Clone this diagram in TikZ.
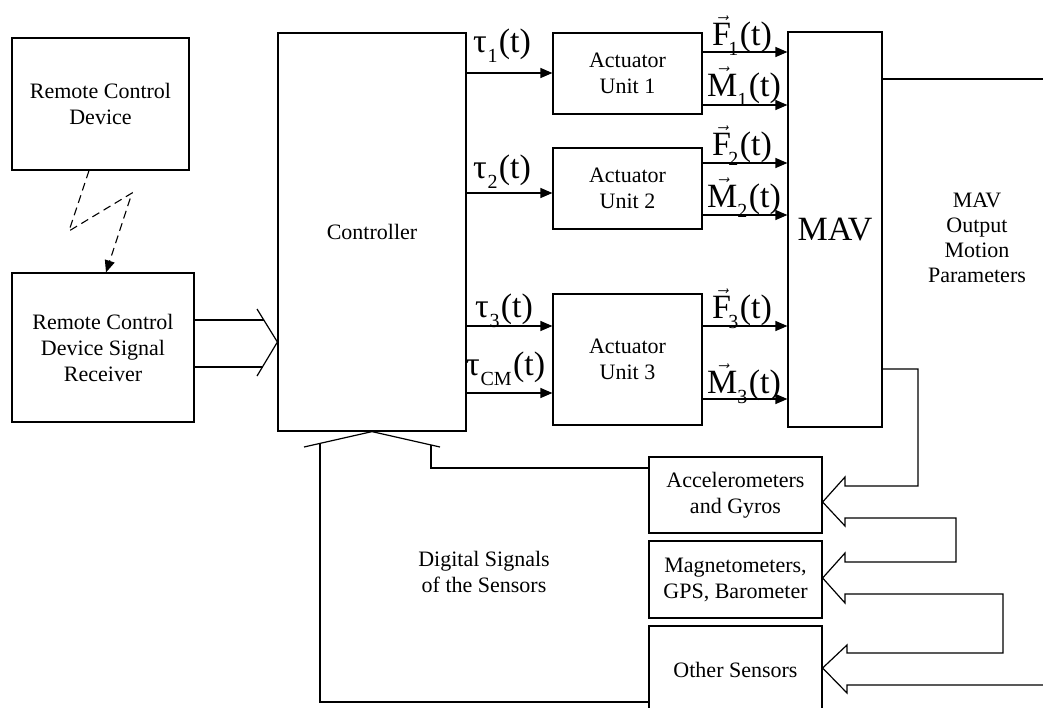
\documentclass[tikz,border=0pt]{standalone}
\usepackage{fontspec}
\setmainfont{Liberation Serif}
\usetikzlibrary{arrows.meta}
\newcommand\sgl[3]{#1\kern#3em\raisebox{-0.3em}{\fontsize{20}{20}\selectfont #2}\kern0.04em(t)}
\begin{document}
\begin{tikzpicture}[x=1pt,y=-1pt,
 every node/.style={font=\fontsize{22}{26}\selectfont},
 blk/.style={draw, line width=1.2pt, inner sep=0pt, align=center},
 conn/.style={line width=1.2pt},
 arr/.style={line width=1.2pt, -{Triangle[length=12pt,width=10pt]}},
 sig/.style={font=\fontsize{34}{34}\selectfont, inner sep=0pt, anchor=base west},
]
\useasboundingbox (0,0) rectangle (1043,707);
% boxes
\node[blk, minimum width=177pt, minimum height=132pt] (rcd) at (100.5,104) {Remote Control\\Device};
\node[blk, minimum width=182pt, minimum height=149pt] (recv) at (103,347.5) {Remote Control\\Device Signal\\Receiver};
\node[blk, minimum width=188pt, minimum height=398pt] (ctrl) at (372,232) {Controller};
\node[blk, minimum width=149pt, minimum height=81pt] (act1) at (627.5,73.5) {Actuator\\Unit 1};
\node[blk, minimum width=149pt, minimum height=81pt] (act2) at (627.5,188.5) {Actuator\\Unit 2};
\node[blk, minimum width=149pt, minimum height=131pt] (act3) at (627.5,359.5) {Actuator\\Unit 3};
\node[blk, minimum width=94pt, minimum height=395pt, font=\fontsize{34}{34}\selectfont] (mav) at (835,229.5) {MAV};
\node[blk, minimum width=173pt, minimum height=76pt] (accel) at (735.5,495) {Accelerometers\\and Gyros};
\node[blk, minimum width=173pt, minimum height=77pt] (magn) at (735.5,579.5) {Magnetometers,\\GPS, Barometer};
\node[blk, minimum width=173pt, minimum height=88pt] (other) at (735.5,670) {Other Sensors};
\node[align=center, inner sep=0pt, font=\fontsize{22}{25}\selectfont] (mavout) at (977,238) {MAV\\Output\\Motion\\Parameters};
\node[align=center, inner sep=0pt] (digi) at (484,572) {Digital Signals\\of the Sensors};
% wireless link
\draw[line width=1.1pt, dash pattern=on 8pt off 5pt, -{Triangle[length=12pt,width=10pt]}]
  (rcd.south -| 89,0) -- (69,231) -- (132,193) -- (recv.north -| 106,0);
% receiver -> controller
\coordinate (rc1) at (264,320);
\coordinate (rc2) at (262.6,367);
\draw[conn] (recv.east |- rc1) -- (rc1);
\draw[conn] (recv.east |- rc2) -- (rc2);
\draw[conn] (257,309) -- (ctrl.west |- 0,342) -- (257,376);
% controller -> actuators
\draw[arr] (ctrl.east |- 0,73) -- (act1.west |- 0,73);
\draw[arr] (ctrl.east |- 0,193) -- (act2.west |- 0,193);
\draw[arr] (ctrl.east |- 0,326) -- (act3.west |- 0,326);
\draw[arr] (ctrl.east |- 0,393) -- (act3.west |- 0,393);
\node[sig] (t1) at (473,52) {\sgl{τ}{1}{0.02}};
\node[sig] (t2) at (473,178) {\sgl{τ}{2}{0.02}};
\node[sig] (t3) at (475,317) {\sgl{τ}{3}{0.02}};
\node[sig] (tcm) at (466,375) {\sgl{τ}{CM}{0.02}};
% actuators -> MAV
\draw[arr] (act1.east |- 0,52) -- (mav.west |- 0,52);
\draw[arr] (act1.east |- 0,105) -- (mav.west |- 0,105);
\draw[arr] (act2.east |- 0,163) -- (mav.west |- 0,163);
\draw[arr] (act2.east |- 0,215) -- (mav.west |- 0,215);
\draw[arr] (act3.east |- 0,326) -- (mav.west |- 0,326);
\draw[arr] (act3.east |- 0,399) -- (mav.west |- 0,399);
\node[sig] (f1) at (712,45) {\sgl{$\vec{\mathrm{F}}$}{1}{-0.08}};
\node[sig] (mm1) at (707,96) {\sgl{$\vec{\mathrm{M}}$}{1}{0}};
\node[sig] (f2) at (712,155) {\sgl{$\vec{\mathrm{F}}$}{2}{-0.08}};
\node[sig] (mm2) at (707,207) {\sgl{$\vec{\mathrm{M}}$}{2}{0}};
\node[sig] (f3) at (712,318) {\sgl{$\vec{\mathrm{F}}$}{3}{-0.08}};
\node[sig] (mm3) at (707,393) {\sgl{$\vec{\mathrm{M}}$}{3}{0}};
% MAV outputs
\coordinate (outT) at (1043,79);
\draw[conn] (mav.east |- outT) -- (outT);
\coordinate (m1) at (918,369);
\coordinate (outB) at (1043,685);
\draw[conn] (mav.east |- m1) -- (m1) -- (918,486) -- (845,486) -- (845,477)
  -- (accel.east |- 0,502) -- (845,526) -- (845,518) -- (956,518) -- (956,562)
  -- (845,562) -- (845,553) -- (magn.east |- 0,578) -- (845,603) -- (845,594)
  -- (1003,594) -- (1003,653) -- (847,653) -- (847,645) -- (other.east |- 0,668)
  -- (847,693) -- (847,685) -- (outB);
% sensors -> controller
\coordinate (cl) at (320,443.2);
\coordinate (cr) at (431,444.9);
\draw[conn] (304,447) -- (ctrl.south) -- (440,447);
\draw[conn] (cl) -- (320,702) -- (other.west |- 0,702);
\draw[conn] (cr) -- (431,468) -- (accel.west |- 0,468);
\end{tikzpicture}
\end{document}
